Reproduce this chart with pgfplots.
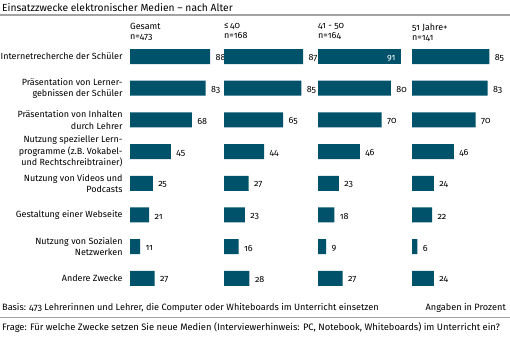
\documentclass[border=0pt]{standalone}
\usepackage{fontspec}
\setmainfont{Fira Sans}[Numbers=OldStyle]
\usepackage{pgfplots}
\pgfplotsset{compat=1.18}
\definecolor{barc}{HTML}{00526B}
\definecolor{rulec}{HTML}{A3A3A3}
\pgfplotsset{
  panel/.style={
    xbar, bar width=15bp, bar shift=0pt,
    xmin=0, xmax=100, ymin=0.5, ymax=8.5, y dir=reverse,
    width=91bp, height=253.6bp, scale only axis,
    anchor=north west,
    axis line style={draw=none}, tick style={draw=none},
    xtick=\empty, ytick={1,...,8}, yticklabels={},
    clip=false,
    /pgf/number format/assume math mode=true,
    nodes near coords,
    every node near coord/.append style={anchor=west, xshift=2bp, yshift=-1.5bp, text=black, font=\fontsize{9}{10}\selectfont},
  },
  bars/.style={fill=barc, draw=none},
}
\begin{document}
\begin{tikzpicture}
\useasboundingbox (0,0) rectangle (510bp,-337bp);
% title
\node[anchor=west, inner sep=0pt, font=\fontsize{10.3}{12}\selectfont] at (2bp,-7.5bp) {Einsatzzwecke elektronischer Medien – nach Alter};
\draw[rulec, line width=1.5bp] (0bp,-15bp) -- (510bp,-15bp);
% headers
\foreach \x/\a/\b in {130/Gesamt/n=473, 224/≤\,40/n=168, 318/41 - 50/n=164, 412/51 Jahre+/n=141}{
  \node[anchor=north west, inner sep=0pt, align=left, font=\fontsize{9}{10}\selectfont] at (\x bp,-23.5bp) {\a\\\b};
}
% panel 1
\begin{axis}[panel, at={(130bp,-40.65bp)},
  yticklabels={{Internetrecherche der Schüler},{Präsentation von Lerner-\\gebnissen der Schüler},{Präsentation von Inhalten\\durch Lehrer},{Nutzung spezieller Lern-\\programme (z.B. Vokabel-\\und Rechtschreibtrainer)},{Nutzung von Videos und\\Podcasts},{Gestaltung einer Webseite},{Nutzung von Sozialen\\Netzwerken},{Andere Zwecke}},
  yticklabel style={align=right, font=\fontsize{9}{11.5}\selectfont, inner xsep=3bp}]
\addplot[bars] coordinates {(88,1) (83,2) (68,3) (45,4) (25,5) (21,6) (11,7) (27,8)};
\end{axis}
% panel 2
\begin{axis}[panel, at={(224bp,-40.65bp)}]
\addplot[bars] coordinates {(87,1) (85,2) (65,3) (44,4) (27,5) (23,6) (16,7) (28,8)};
\end{axis}
% panel 3
\begin{axis}[panel, at={(318bp,-40.65bp)}]
\addplot[bars, every node near coord/.append style={anchor=east, xshift=-4bp, text=white}] coordinates {(91,1)};
\addplot[bars] coordinates {(80,2) (70,3) (46,4) (23,5) (18,6) (9,7) (27,8)};
\end{axis}
% panel 4
\begin{axis}[panel, at={(412bp,-40.65bp)}]
\addplot[bars] coordinates {(85,1) (83,2) (70,3) (46,4) (24,5) (22,6) (6,7) (24,8)};
\end{axis}
% footer
\node[anchor=west, inner sep=0pt, font=\fontsize{9.2}{10}\selectfont] at (2bp,-308bp) {Basis: 473 Lehrerinnen und Lehrer, die Computer oder Whiteboards im Unterricht einsetzen};
\node[anchor=east, inner sep=0pt, font=\fontsize{9.2}{10}\selectfont] at (506bp,-308bp) {Angaben in Prozent};
\draw[rulec, line width=1bp] (0bp,-317.5bp) -- (510bp,-317.5bp);
\node[anchor=west, inner sep=0pt, font=\fontsize{9.4}{10}\selectfont] at (2bp,-327.5bp) {Frage: Für welche Zwecke setzen Sie neue Medien (Interviewerhinweis: PC, Notebook, Whiteboards) im Unterricht ein?};
\end{tikzpicture}
\end{document}
